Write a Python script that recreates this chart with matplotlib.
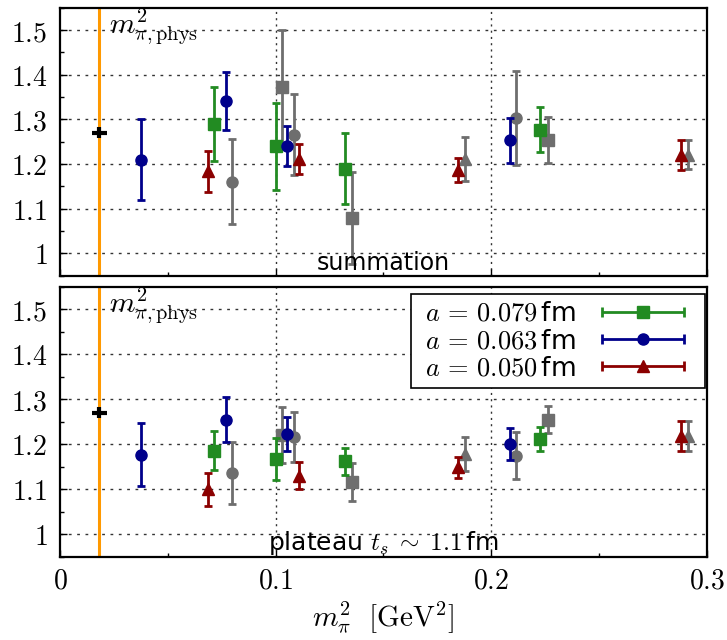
import numpy as np
import matplotlib
matplotlib.use("Agg")
import matplotlib.pyplot as plt
from matplotlib.container import ErrorbarContainer
from matplotlib.legend_handler import HandlerErrorbar

plt.rcParams['mathtext.fontset'] = 'cm'
plt.rcParams['font.family'] = ['DejaVu Sans']

# physical pion mass point
m_phys = 0.0182
phys_val = 1.27
phys_err = 0.012

# x positions (m_pi^2 in GeV^2)
x_079 = [0.0712, 0.1000, 0.1320, 0.2226]
x_063 = [0.0376, 0.0770, 0.1053, 0.2087]
x_050 = [0.0684, 0.1107, 0.1847, 0.2880]
x_gray_sq = [0.1030, 0.1355, 0.2263]
x_gray_ci = [0.0797, 0.1084, 0.2116]
x_gray_tr = [0.1880, 0.2914]

# summation method
sum_079 = [1.290, 1.240, 1.190, 1.277]
sum_079_err = [0.083, 0.097, 0.080, 0.050]
sum_063 = [1.210, 1.341, 1.241, 1.253]
sum_063_err = [0.091, 0.065, 0.045, 0.051]
sum_050 = [1.184, 1.211, 1.186, 1.220]
sum_050_err = [0.046, 0.034, 0.027, 0.033]
sum_gray_sq = [1.372, 1.080, 1.254]
sum_gray_sq_err = [0.128, 0.103, 0.052]
sum_gray_ci = [1.161, 1.266, 1.303]
sum_gray_ci_err = [0.095, 0.090, 0.105]
sum_gray_tr = [1.211, 1.221]
sum_gray_tr_err = [0.049, 0.033]

# plateau method
pla_079 = [1.186, 1.168, 1.162, 1.212]
pla_079_err = [0.044, 0.047, 0.030, 0.026]
pla_063 = [1.177, 1.255, 1.223, 1.201]
pla_063_err = [0.070, 0.050, 0.037, 0.036]
pla_050 = [1.100, 1.130, 1.149, 1.219]
pla_050_err = [0.037, 0.030, 0.023, 0.033]
pla_gray_sq = [1.220, 1.116, 1.255]
pla_gray_sq_err = [0.062, 0.043, 0.029]
pla_gray_ci = [1.136, 1.216, 1.175]
pla_gray_ci_err = [0.069, 0.055, 0.052]
pla_gray_tr = [1.178, 1.219]
pla_gray_tr_err = [0.038, 0.033]

labels = [r" $a\,=\,0.079\,$fm", r" $a\,=\,0.063\,$fm", r" $a\,=\,0.050\,$fm"]
colors = ["#228b22", "#00008b", "#8b0000"]
markers = ["s", "o", "^"]
gray = "#6e6e6e"

yticks = [1.0, 1.1, 1.2, 1.3, 1.4, 1.5]
ytick_labels = ["$1$", "$1.1$", "$1.2$", "$1.3$", "$1.4$", "$1.5$"]
xticks = [0, 0.1, 0.2, 0.3]
xtick_labels = ["$0$", "$0.1$", "$0.2$", "$0.3$"]

fig = plt.figure(figsize=(7.27, 6.4), dpi=100)
ax1 = fig.add_axes([0.0825, 0.569, 0.890, 0.419])
ax2 = fig.add_axes([0.0825, 0.130, 0.890, 0.422])

ebkw = dict(ls="none", elinewidth=2, capsize=2.8, capthick=2, markersize=8)


def draw_panel(ax, col_data, gray_data, tag, tagsize):
    ax.axvline(m_phys, color="#ff9900", lw=2.2, zorder=2)
    # gray points first, behind the coloured ones
    for (x, y, e), m in zip(gray_data, markers):
        ax.errorbar(x, y, yerr=e, marker=m, color=gray, zorder=3, **ebkw)
    for (x, y, e), c, m in zip(col_data, colors, markers):
        ax.errorbar(x, y, yerr=e, marker=m, color=c, zorder=4, **ebkw)
    ax.errorbar([m_phys], [phys_val], xerr=0.0035, yerr=phys_err, color="black",
                ls="none", elinewidth=3, capsize=0, zorder=5)
    ax.text(0.0225, 1.552, r"$m^2_{\pi,\mathrm{phys}}$", fontsize=21, va="top")
    ax.text(0.15, 0.964, tag, fontsize=tagsize, ha="center", va="baseline")

    ax.set_xlim(0, 0.3)
    ax.set_ylim(0.95, 1.55)
    ax.set_yticks(yticks)
    ax.set_yticklabels(ytick_labels, fontsize=20)
    ax.set_yticks(np.arange(0.95, 1.551, 0.05), minor=True)
    ax.set_xticks(xticks)
    ax.set_xticks([0.05, 0.15, 0.25], minor=True)
    ax.tick_params(direction="in", length=5, width=1, right=False, top=False)
    ax.tick_params(axis="y", pad=9)
    ax.tick_params(which="minor", direction="in", length=3, width=1)
    for y in yticks:
        ax.axhline(y, color="#333333", lw=1, ls=(0, (2, 4)), zorder=1)
    for x in [0.1, 0.2]:
        ax.axvline(x, color="#333333", lw=1, ls=(0, (1.5, 3)), zorder=1)
    for s in ax.spines.values():
        s.set_linewidth(1.6)


draw_panel(ax1,
           [(x_079, sum_079, sum_079_err), (x_063, sum_063, sum_063_err), (x_050, sum_050, sum_050_err)],
           [(x_gray_sq, sum_gray_sq, sum_gray_sq_err), (x_gray_ci, sum_gray_ci, sum_gray_ci_err),
            (x_gray_tr, sum_gray_tr, sum_gray_tr_err)],
           "summation", 17)
ax1.set_xticklabels([])

draw_panel(ax2,
           [(x_079, pla_079, pla_079_err), (x_063, pla_063, pla_063_err), (x_050, pla_050, pla_050_err)],
           [(x_gray_sq, pla_gray_sq, pla_gray_sq_err), (x_gray_ci, pla_gray_ci, pla_gray_ci_err),
            (x_gray_tr, pla_gray_tr, pla_gray_tr_err)],
           r"plateau $t_s\;\sim\;1.1\,$fm", 18)
ax2.set_xticklabels(xtick_labels, fontsize=20)
ax2.tick_params(axis="x", pad=7)
ax2.set_xlabel(r"$m_\pi^2\ \ [\mathrm{GeV}^2]$", fontsize=21, labelpad=4)

# legend proxies with horizontal error bars
handles = []
for lab, c, m in zip(labels, colors, markers):
    h = ax2.errorbar([np.nan], [np.nan], xerr=[1], marker=m, color=c, ls="none",
                     elinewidth=2, capsize=3.5, capthick=2, markersize=8, label=lab)
    handles.append(h)
leg = ax2.legend(handles=handles, labels=labels, loc="upper right", fontsize=19,
                 markerfirst=False, handlelength=4.2, fancybox=False, framealpha=1,
                 edgecolor="black", borderpad=0.25, labelspacing=0.05, handletextpad=0.45,
                 bbox_to_anchor=(0.997, 0.972), borderaxespad=0,
                 handler_map={ErrorbarContainer: HandlerErrorbar(xerr_size=1.55)})
leg.get_frame().set_linewidth(1.2)

plt.savefig("out.png", dpi=100)
